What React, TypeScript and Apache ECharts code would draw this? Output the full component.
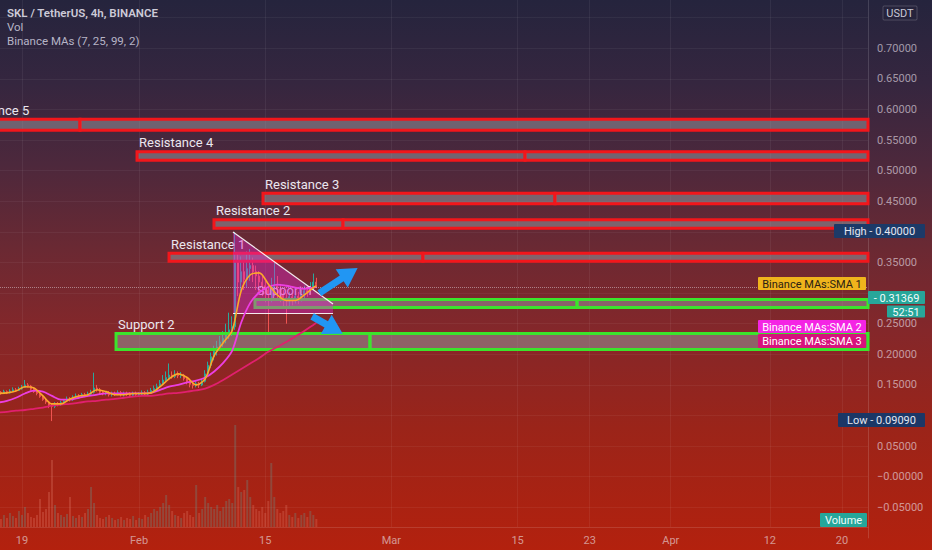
import React, { useEffect, useRef } from "react";
import * as echarts from "echarts";

// ---- time axis (days since 1 Jan 2021) ----
const tickDays = [18, 31, 45, 59, 73, 81, 90, 101, 109];
const tickLabels = ["19", "Feb", "15", "Mar", "15", "23", "Apr", "12", "20"];
const xMin = 15.563;
const xMax = 111.89;

// ---- 8h candles starting 16 Jan 08:00 ----
const firstBarDay = 15 + 1 / 3;
const barStep = 1 / 3;

const closes = [
  0.138, 0.136, 0.139, 0.137, 0.14, 0.142, 0.141, 0.144, 0.146, 0.15,
  0.148, 0.143, 0.139, 0.136, 0.131, 0.126, 0.122, 0.117, 0.115, 0.119,
  0.118, 0.121, 0.124, 0.127, 0.126, 0.13, 0.132, 0.131, 0.134, 0.133,
  0.135, 0.138, 0.145, 0.142, 0.138, 0.136, 0.137, 0.134, 0.136, 0.135,
  0.137, 0.134, 0.136, 0.135, 0.133, 0.136, 0.134, 0.135, 0.137, 0.135,
  0.138, 0.141, 0.144, 0.147, 0.152, 0.158, 0.162, 0.166, 0.164, 0.167,
  0.165, 0.166, 0.16, 0.155, 0.151, 0.149, 0.152, 0.15, 0.156, 0.168,
  0.182, 0.196, 0.205, 0.212, 0.22, 0.226, 0.232, 0.24, 0.245, 0.35,
  0.318, 0.335, 0.322, 0.34, 0.345, 0.335, 0.328, 0.318, 0.312, 0.305,
  0.298, 0.305, 0.312, 0.306, 0.298, 0.292, 0.288, 0.294, 0.29, 0.295,
  0.292, 0.298, 0.304, 0.302, 0.31, 0.318, 0.31369,
];
const highs = [
  0.141, 0.14, 0.142, 0.141, 0.143, 0.146, 0.145, 0.147, 0.15, 0.158,
  0.153, 0.15, 0.145, 0.141, 0.138, 0.133, 0.128, 0.124, 0.12, 0.122,
  0.122, 0.124, 0.127, 0.131, 0.13, 0.133, 0.136, 0.135, 0.137, 0.137,
  0.139, 0.142, 0.17, 0.15, 0.145, 0.141, 0.14, 0.14, 0.139, 0.139,
  0.141, 0.14, 0.139, 0.139, 0.138, 0.139, 0.139, 0.138, 0.141, 0.14,
  0.142, 0.145, 0.149, 0.152, 0.158, 0.166, 0.172, 0.185, 0.172, 0.174,
  0.172, 0.171, 0.168, 0.162, 0.157, 0.154, 0.156, 0.155, 0.16, 0.174,
  0.188, 0.203, 0.214, 0.222, 0.23, 0.238, 0.25, 0.268, 0.262, 0.4,
  0.366, 0.36, 0.352, 0.368, 0.372, 0.358, 0.345, 0.336, 0.328, 0.32,
  0.316, 0.325, 0.35, 0.328, 0.315, 0.305, 0.3, 0.302, 0.3, 0.303,
  0.302, 0.306, 0.312, 0.312, 0.318, 0.332, 0.325,
];
const lows = [
  0.135, 0.134, 0.135, 0.135, 0.136, 0.139, 0.139, 0.14, 0.142, 0.145,
  0.146, 0.141, 0.137, 0.133, 0.129, 0.124, 0.119, 0.112, 0.0909, 0.112,
  0.115, 0.116, 0.119, 0.122, 0.123, 0.124, 0.128, 0.129, 0.129, 0.13,
  0.131, 0.133, 0.136, 0.139, 0.135, 0.133, 0.133, 0.131, 0.131, 0.132,
  0.133, 0.131, 0.131, 0.132, 0.13, 0.13, 0.131, 0.132, 0.133, 0.132,
  0.133, 0.136, 0.139, 0.142, 0.145, 0.15, 0.155, 0.159, 0.16, 0.161,
  0.161, 0.161, 0.157, 0.151, 0.146, 0.144, 0.146, 0.145, 0.148, 0.154,
  0.165, 0.178, 0.19, 0.198, 0.206, 0.212, 0.218, 0.225, 0.23, 0.24,
  0.295, 0.3, 0.305, 0.31, 0.32, 0.318, 0.305, 0.3, 0.295, 0.285,
  0.235, 0.285, 0.295, 0.292, 0.285, 0.275, 0.25, 0.278, 0.28, 0.283,
  0.282, 0.286, 0.291, 0.294, 0.298, 0.305, 0.308,
];
const firstOpen = 0.137;
const opens = [firstOpen, ...closes.slice(0, -1)];

// volume (millions)
const volumes = [
  10, 8, 12, 9, 14, 11, 9, 16, 12, 20,
  14, 10, 9, 12, 28, 15, 18, 35, 67, 22,
  14, 12, 10, 13, 30, 11, 9, 12, 10, 14,
  18, 40, 24, 12, 9, 8, 10, 12, 9, 7,
  8, 10, 7, 9, 8, 11, 7, 9, 8, 12,
  10, 14, 18, 16, 20, 24, 32, 22, 16, 12,
  11, 9, 14, 16, 12, 10, 42, 14, 18, 30,
  24, 20, 18, 22, 16, 20, 26, 28, 24, 102,
  40, 35, 37, 47, 30, 22, 18, 16, 20, 14,
  26, 64, 30, 18, 14, 16, 22, 12, 10, 14,
  9, 12, 14, 10, 16, 12, 8,
];

// Binance MAs sampled at these bar indices
const maBars = [
  0, 3, 6, 9, 12, 15, 18, 21, 24, 27, 30, 33, 36, 39, 42, 45, 48, 51, 54, 57,
  60, 63, 66, 69, 72, 75, 78, 81, 84, 87, 90, 93, 96, 99, 102, 105, 106,
];
const sma1 = [
  0.136, 0.137, 0.14, 0.147, 0.145, 0.132, 0.119, 0.119, 0.127, 0.132,
  0.134, 0.142, 0.139, 0.134, 0.134, 0.136, 0.136, 0.137, 0.147, 0.16,
  0.168, 0.162, 0.15, 0.16, 0.198, 0.219, 0.239, 0.304, 0.33, 0.333,
  0.315, 0.297, 0.288, 0.288, 0.297, 0.309, 0.312,
];
const sma2 = [
  0.121, 0.124, 0.129, 0.136, 0.1405, 0.139, 0.132, 0.126, 0.126, 0.129,
  0.132, 0.134, 0.136, 0.136, 0.136, 0.136, 0.136, 0.137, 0.142, 0.147,
  0.15, 0.154, 0.157, 0.162, 0.172, 0.186, 0.206, 0.252, 0.284, 0.301,
  0.31, 0.314, 0.312, 0.309, 0.307, 0.309, 0.31,
];
const sma3 = [
  0.105, 0.106, 0.108, 0.109, 0.111, 0.113, 0.116, 0.118, 0.119, 0.121,
  0.123, 0.124, 0.126, 0.127, 0.129, 0.131, 0.132, 0.132, 0.134, 0.136,
  0.137, 0.139, 0.141, 0.144, 0.15, 0.158, 0.167, 0.176, 0.185, 0.194,
  0.204, 0.212, 0.22, 0.229, 0.238, 0.248, 0.251,
];

const lastPrice = 0.31369;

// ---- drawings: zones (days / prices) ----
const zoneNames = ["Resistance 5", "Resistance 4", "Resistance 3", "Resistance 2", "Resistance 1", "Support 1", "Support 2"];
const zoneKind = ["R", "R", "R", "R", "R", "S", "S"];
const zoneLow = [0.566, 0.517, 0.446, 0.406, 0.352, 0.2765, 0.208];
const zoneHigh = [0.584, 0.531, 0.463, 0.42, 0.365, 0.2895, 0.234];
const zoneStart = [10.35, 30.77, 44.75, 39.31, 34.32, 43.86, 28.44];
const zoneSplit = [24.44, 73.83, 77.15, 53.63, 62.5, 79.6, 56.62];

// triangle: top point, right point, base level
const triangle = [[41.42, 0.3998, 52.52, 0.2822, 0.2667]];
// arrows: tail -> tip
const arrows = [
  [51.0, 0.3, 55.25, 0.341],
  [50.2, 0.262, 53.6, 0.2335],
];

// axis labels hidden behind the price-scale badges
const hiddenTicks = [0.75, 0.4, 0.3, 0.1];

const FONT = "Roboto, 'Noto Sans', sans-serif";

function boxEl(x: number, y: number, w: number, h: number, fill: string, text: string, color: string, stroke?: string) {
  return {
    type: "group",
    z: 100,
    children: [
      { type: "rect", shape: { x, y, width: w, height: h, r: 1 }, style: { fill, stroke: stroke || undefined, lineWidth: stroke ? 1 : 0 }, z: 100 },
      {
        type: "text",
        x: x + w / 2,
        y: y + h / 2 + 0.5,
        z: 101,
        style: { text, fill: color, font: `11px ${FONT}`, align: "center", verticalAlign: "middle" },
      },
    ],
  };
}

export default function App() {
  const ref = useRef<HTMLDivElement>(null);
  useEffect(() => {
    const chart = echarts.init(ref.current!, undefined, { renderer: "svg" });
    const days = closes.map((_, i) => firstBarDay + i * barStep);
    const candleData = closes.map((c, i) => [days[i], opens[i], c, lows[i], highs[i]]);
    const volData = volumes.map((v, i) => ({
      value: [days[i], v],
      itemStyle: { color: closes[i] >= opens[i] ? "rgba(90,170,160,0.28)" : "rgba(230,130,110,0.28)" },
    }));
    const maLine = (vals: number[]) => vals.map((v, k) => [days[maBars[k]], v]);
    const red = "#f2161b";
    const green = "#3ce42c";
    const zoneFill = "rgba(150,148,155,0.55)";

    const option: any = {
      animation: false,
      backgroundColor: "transparent",
      grid: [
        { left: 0, right: 64, top: -12.9, bottom: 12.1, outerBoundsMode: "none", containLabel: false },
        { left: 0, right: 64, top: 420, bottom: 23, outerBoundsMode: "none", containLabel: false },
        { left: 0, right: 64, top: 0, bottom: 23, outerBoundsMode: "none", containLabel: false },
      ],
      xAxis: [
        { type: "value", gridIndex: 0, min: xMin, max: xMax, show: false },
        {
          type: "value",
          gridIndex: 1,
          min: xMin,
          max: xMax,
          axisLine: { show: true, lineStyle: { color: "rgba(255,255,255,0.13)" } },
          axisTick: { show: false, customValues: tickDays },
          splitLine: { show: false },
          axisLabel: {
            customValues: tickDays,
            color: "rgba(235,225,230,0.62)",
            fontSize: 11,
            fontFamily: FONT,
            margin: 8,
            formatter: (v: number) => {
              const k = tickDays.indexOf(v);
              return k >= 0 ? tickLabels[k] : "";
            },
          },
        },
        {
          type: "value",
          gridIndex: 2,
          min: xMin,
          max: xMax,
          axisLine: { show: false },
          axisLabel: { show: false },
          axisTick: { show: false, customValues: tickDays },
          splitLine: { show: true, lineStyle: { color: "rgba(255,255,255,0.06)", width: 1 } },
        },
      ],
      yAxis: [
        {
          type: "value",
          gridIndex: 0,
          position: "right",
          min: -0.1,
          max: 0.8,
          interval: 0.05,
          axisLine: { show: true, lineStyle: { color: "rgba(255,255,255,0.14)" } },
          axisTick: { show: false },
          splitLine: { show: true, showMinLine: false, showMaxLine: false, lineStyle: { color: "rgba(255,255,255,0.05)" } },
          axisLabel: {
            color: "rgba(235,225,235,0.62)",
            fontSize: 11,
            fontFamily: FONT,
            margin: 9,
            align: "left",
            formatter: (v: number) => {
              if (v > 0.79 || v < -0.09) return "";
              if (hiddenTicks.some((h) => Math.abs(h - v) < 1e-6)) return "";
              const s = Math.abs(v).toFixed(5);
              return v <= 0.0000001 ? "\u2212" + s : s;
            },
          },
        },
        { type: "value", gridIndex: 1, min: 0, max: 107, show: false },
        { type: "value", gridIndex: 2, min: 0, max: 1, show: false },
      ],
      graphic: [
        { type: "text", x: 7, y: 13, z: 100, style: { text: "SKL / TetherUS, 4h, BINANCE", fill: "#cdcbd8", font: `600 11.5px ${FONT}`, verticalAlign: "middle" } },
        { type: "text", x: 7, y: 27, z: 100, style: { text: "Vol", fill: "#b6b4c6", font: `11.5px ${FONT}`, verticalAlign: "middle" } },
        { type: "text", x: 7, y: 41, z: 100, style: { text: "Binance MAs (7, 25, 99, 2)", fill: "#b6b4c6", font: `11.5px ${FONT}`, verticalAlign: "middle" } },
        boxEl(883, 6, 34, 14, "rgba(38,36,60,0.92)", "USDT", "#c9c8d6", "rgba(255,255,255,0.18)"),
        boxEl(834, 224, 91, 14, "#1c3a68", "High - 0.40000", "#e4e6f0"),
        boxEl(838, 413, 87, 14, "#1b3766", "Low - 0.09090", "#e4e6f0"),
        boxEl(868, 291, 57, 13, "#27a69a", "- 0.31369", "#f2fbfa"),
        boxEl(887, 305.5, 38, 12, "#27a69a", "52:51", "#f2fbfa"),
        boxEl(758, 277, 108, 13, "#f0b41c", "Binance MAs:SMA 1", "#2a2014"),
        boxEl(758, 320, 108, 13, "#f424e4", "Binance MAs:SMA 2", "#ffffff"),
        boxEl(758, 334, 108, 14, "#d7137c", "Binance MAs:SMA 3", "#ffffff"),
        boxEl(820, 513, 47, 14, "#26a69a", "Volume", "#f2fbfa"),
      ],
      series: [
        {
          type: "bar",
          name: "Vol",
          xAxisIndex: 1,
          yAxisIndex: 1,
          barWidth: 2,
          data: volData,
          z: 1,
        },
        {
          type: "candlestick",
          name: "SKL",
          xAxisIndex: 0,
          yAxisIndex: 0,
          barWidth: 1.6,
          encode: { x: 0, y: [1, 2, 3, 4] },
          data: candleData,
          itemStyle: { color: "#2aa89c", color0: "#ef5350", borderColor: "#2aa89c", borderColor0: "#ef5350", borderWidth: 1 },
          z: 2,
          markLine: {
            silent: true,
            symbol: ["none", "none"],
            label: { show: false },
            lineStyle: { type: "dotted", color: "rgba(225,215,225,0.5)", width: 1 },
            data: [{ yAxis: lastPrice }],
          },
        },
        {
          type: "custom",
          name: "zones",
          xAxisIndex: 0,
          yAxisIndex: 0,
          z: 3,
          encode: { x: [0, 1], y: [2, 3] },
          data: zoneNames.map((_, i) => [zoneStart[i], zoneSplit[i], zoneLow[i], zoneHigh[i]]),
          renderItem: (params: any, api: any) => {
            const i = params.dataIndex;
            const a = api.coord([api.value(0), api.value(3)]);
            const b = api.coord([api.value(1), api.value(2)]);
            const c = api.coord([xMax, api.value(2)]);
            const stroke = zoneKind[i] === "R" ? red : green;
            return {
              type: "group",
              children: [
                { type: "rect", shape: { x: a[0], y: a[1], width: b[0] - a[0], height: b[1] - a[1] }, style: { fill: zoneFill, stroke, lineWidth: 3 } },
                { type: "rect", shape: { x: b[0], y: a[1], width: c[0] - b[0], height: b[1] - a[1] }, style: { fill: zoneFill, stroke, lineWidth: 3 } },
                {
                  type: "text",
                  x: a[0] + 2,
                  y: a[1] - 9,
                  style: { text: zoneNames[i], fill: i === 5 ? "#eab8e4" : "#ebe6ee", font: `13px ${FONT}`, align: "left", verticalAlign: "middle" },
                },
              ],
            };
          },
        },
        {
          type: "custom",
          name: "triangle",
          xAxisIndex: 0,
          yAxisIndex: 0,
          z: 4,
          encode: { x: [0, 2], y: [1, 3, 4] },
          data: triangle,
          renderItem: (params: any, api: any) => {
            const top = api.coord([api.value(0), api.value(1)]);
            const right = api.coord([api.value(2), api.value(3)]);
            const bl = api.coord([api.value(0), api.value(4)]);
            const br = api.coord([api.value(2), api.value(4)]);
            return {
              type: "group",
              children: [
                { type: "polygon", shape: { points: [top, right, br, bl] }, style: { fill: "rgba(225,40,210,0.40)" } },
                { type: "line", shape: { x1: top[0], y1: top[1], x2: right[0], y2: right[1] }, style: { stroke: "rgba(255,255,255,0.9)", lineWidth: 1.2 } },
                { type: "line", shape: { x1: bl[0], y1: bl[1], x2: br[0], y2: br[1] }, style: { stroke: "rgba(255,255,255,0.9)", lineWidth: 1.2 } },
              ],
            };
          },
        },
        {
          type: "line",
          name: "SMA 3",
          xAxisIndex: 0,
          yAxisIndex: 0,
          data: maLine(sma3),
          showSymbol: false,
          smooth: 0.3,
          lineStyle: { color: "#e0206e", width: 1.8 },
          z: 5,
        },
        {
          type: "line",
          name: "SMA 2",
          xAxisIndex: 0,
          yAxisIndex: 0,
          data: maLine(sma2),
          showSymbol: false,
          smooth: 0.3,
          lineStyle: { color: "#ec3ee2", width: 1.8 },
          z: 5,
        },
        {
          type: "line",
          name: "SMA 1",
          xAxisIndex: 0,
          yAxisIndex: 0,
          data: maLine(sma1),
          showSymbol: false,
          smooth: 0.3,
          lineStyle: { color: "#fba82a", width: 1.6 },
          z: 5,
        },
        {
          type: "custom",
          name: "arrows",
          xAxisIndex: 0,
          yAxisIndex: 0,
          z: 6,
          encode: { x: [0, 2], y: [1, 3] },
          data: arrows,
          renderItem: (params: any, api: any) => {
            const t = api.coord([api.value(0), api.value(1)]);
            const h = api.coord([api.value(2), api.value(3)]);
            const dx = h[0] - t[0];
            const dy = h[1] - t[1];
            const len = Math.sqrt(dx * dx + dy * dy) || 1;
            const ux = dx / len, uy = dy / len;
            const px = -uy, py = ux;
            const headLen = 19, headHalf = 11, shaft = 3.5;
            const bx = h[0] - ux * headLen, by = h[1] - uy * headLen;
            const pts = [
              [t[0] + px * shaft, t[1] + py * shaft],
              [bx + px * shaft, by + py * shaft],
              [bx + px * headHalf, by + py * headHalf],
              [h[0], h[1]],
              [bx - px * headHalf, by - py * headHalf],
              [bx - px * shaft, by - py * shaft],
              [t[0] - px * shaft, t[1] - py * shaft],
            ];
            return { type: "polygon", shape: { points: pts }, style: { fill: "#2196f3" } };
          },
        },
      ],
    };
    chart.setOption(option);
    return () => chart.dispose();
  }, []);
  return (
    <div
      ref={ref}
      style={{
        position: "fixed",
        left: 0,
        top: 0,
        width: 932,
        height: 550,
        background:
          "linear-gradient(180deg, #25243d 0%, #35263f 15%, #4d283c 30%, #6a2933 45%, #84272a 60%, #9b2419 78%, #b3210e 100%)",
      }}
    />
  );
}
